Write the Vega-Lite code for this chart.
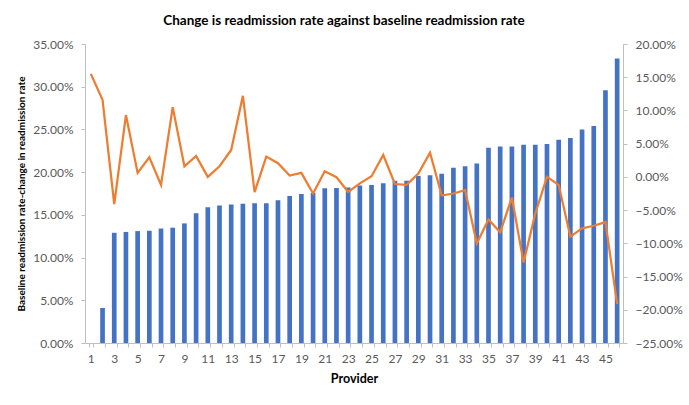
{
  "$schema": "https://vega.github.io/schema/vega-lite/v6.json",
  "autosize": "none",
  "width": 538,
  "height": 299,
  "padding": {"left": 85, "top": 44, "right": 66, "bottom": 62},
  "background": "white",
  "config": {
    "font": "Lato",
    "view": {"stroke": null},
    "axis": {
      "labelFont": "Lato",
      "titleFont": "Lato",
      "labelColor": "#595959",
      "labelFontSize": 12,
      "domainColor": "#BFBFBF",
      "tickColor": "#BFBFBF",
      "tickSize": 4,
      "grid": false,
      "titleColor": "#000000",
      "titleFontWeight": "bold"
    }
  },
  "title": {
    "text": "Change is readmission rate against baseline readmission rate",
    "font": "Lato",
    "fontSize": 13.5,
    "fontWeight": "bold",
    "color": "#000000",
    "anchor": "middle",
    "dx": -10,
    "offset": 11
  },
  "data": {
    "values": [
      {"provider": 1, "baseline": 0.0, "change": 0.155},
      {"provider": 2, "baseline": 0.041, "change": 0.116},
      {"provider": 3, "baseline": 0.129, "change": -0.041},
      {"provider": 4, "baseline": 0.130, "change": 0.093},
      {"provider": 5, "baseline": 0.131, "change": 0.006},
      {"provider": 6, "baseline": 0.1315, "change": 0.0295},
      {"provider": 7, "baseline": 0.134, "change": -0.012},
      {"provider": 8, "baseline": 0.135, "change": 0.105},
      {"provider": 9, "baseline": 0.140, "change": 0.016},
      {"provider": 10, "baseline": 0.152, "change": 0.0315},
      {"provider": 11, "baseline": 0.159, "change": 0.0},
      {"provider": 12, "baseline": 0.161, "change": 0.016},
      {"provider": 13, "baseline": 0.162, "change": 0.0405},
      {"provider": 14, "baseline": 0.163, "change": 0.122},
      {"provider": 15, "baseline": 0.1635, "change": -0.023},
      {"provider": 16, "baseline": 0.1635, "change": 0.0305},
      {"provider": 17, "baseline": 0.167, "change": 0.0205},
      {"provider": 18, "baseline": 0.172, "change": 0.002},
      {"provider": 19, "baseline": 0.1745, "change": 0.006},
      {"provider": 20, "baseline": 0.1755, "change": -0.025},
      {"provider": 21, "baseline": 0.181, "change": 0.0085},
      {"provider": 22, "baseline": 0.1815, "change": -0.0005},
      {"provider": 23, "baseline": 0.182, "change": -0.0225},
      {"provider": 24, "baseline": 0.1845, "change": -0.0097},
      {"provider": 25, "baseline": 0.185, "change": 0.001},
      {"provider": 26, "baseline": 0.187, "change": 0.033},
      {"provider": 27, "baseline": 0.190, "change": -0.0107},
      {"provider": 28, "baseline": 0.190, "change": -0.012},
      {"provider": 29, "baseline": 0.1955, "change": 0.005},
      {"provider": 30, "baseline": 0.1965, "change": 0.0365},
      {"provider": 31, "baseline": 0.198, "change": -0.028},
      {"provider": 32, "baseline": 0.205, "change": -0.025},
      {"provider": 33, "baseline": 0.207, "change": -0.020},
      {"provider": 34, "baseline": 0.210, "change": -0.100},
      {"provider": 35, "baseline": 0.2285, "change": -0.064},
      {"provider": 36, "baseline": 0.230, "change": -0.0835},
      {"provider": 37, "baseline": 0.230, "change": -0.031},
      {"provider": 38, "baseline": 0.232, "change": -0.129},
      {"provider": 39, "baseline": 0.232, "change": -0.055},
      {"provider": 40, "baseline": 0.233, "change": 0.0},
      {"provider": 41, "baseline": 0.238, "change": -0.012},
      {"provider": 42, "baseline": 0.240, "change": -0.090},
      {"provider": 43, "baseline": 0.250, "change": -0.0775},
      {"provider": 44, "baseline": 0.254, "change": -0.0735},
      {"provider": 45, "baseline": 0.296, "change": -0.068},
      {"provider": 46, "baseline": 0.333, "change": -0.1915}
    ]
  },
  "encoding": {
    "x": {
      "field": "provider",
      "type": "ordinal",
      "scale": {"paddingInner": 0.6, "paddingOuter": 0.3},
      "axis": {
        "title": "Provider",
        "titleFontSize": 12.5,
        "titlePadding": 8,
        "labelAngle": 0,
        "labelPadding": 6,
        "tickBand": "extent",
        "labelExpr": "datum.value % 2 == 1 ? datum.label : ''"
      }
    }
  },
  "layer": [
    {
      "mark": {"type": "bar", "color": "#4472C4"},
      "encoding": {
        "y": {
          "field": "baseline",
          "type": "quantitative",
          "scale": {"domain": [0, 0.35], "nice": false},
          "axis": {
            "title": "Baseline readmission rate-change in readmission rate",
            "titleFontSize": 10,
            "titlePadding": 6,
            "format": ".2%",
            "values": [0, 0.05, 0.1, 0.15, 0.2, 0.25, 0.3, 0.35],
            "labelPadding": 8
          }
        }
      }
    },
    {
      "mark": {"type": "line", "color": "#ED7D31", "strokeWidth": 2.25},
      "encoding": {
        "y": {
          "field": "change",
          "type": "quantitative",
          "scale": {"domain": [-0.25, 0.2], "nice": false, "zero": false},
          "axis": {
            "orient": "right",
            "title": null,
            "format": ".2%",
            "values": [-0.25, -0.2, -0.15, -0.1, -0.05, 0, 0.05, 0.1, 0.15, 0.2],
            "labelPadding": 8
          }
        }
      }
    }
  ],
  "resolve": {"scale": {"y": "independent"}}
}
